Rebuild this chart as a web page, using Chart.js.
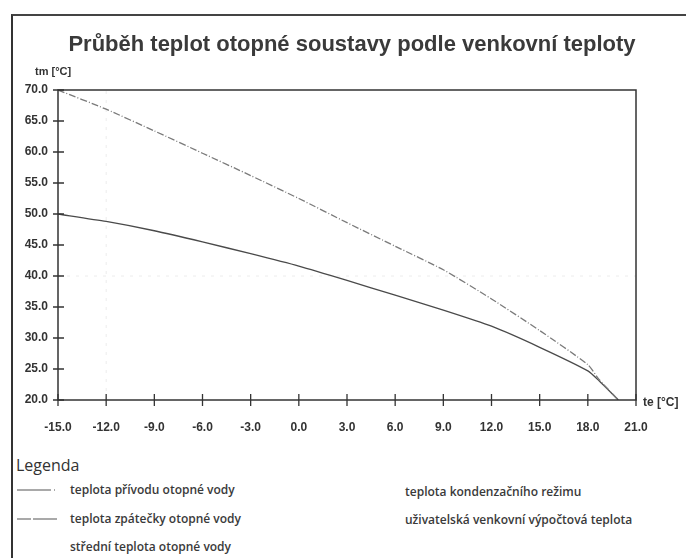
<!DOCTYPE html>
<html>
<head>
<meta charset="utf-8">
<script src="https://cdn.jsdelivr.net/npm/chart.js@4"></script>
<style>
  body { margin: 0; background: #fff; }
  #wrap { position: relative; width: 686px; height: 558px; overflow: hidden; background: #fff; }
  #ramecek { position: absolute; left: 11px; top: 14px; width: 690px; height: 560px;
             border-left: 2px solid #333; border-top: 2px solid #444; }
  #graf { position: absolute; left: 0; top: 0; }
  .txt { position: absolute; white-space: nowrap; color: #333; }
  #nadpis { left: 0; width: 704px; top: 33px; text-align: center;
            font: bold 22px "Liberation Sans", Arial, sans-serif; line-height: 22px; color: #3a3a3a; }
  .osa { font: bold 11px "Liberation Sans", Arial, sans-serif; line-height: 12px; }
  #legenda { left: 16px; top: 455px; font: 16px "Open Sans", sans-serif; line-height: 20px; color: #333; }
  .pol { font: 600 12px "Open Sans", sans-serif; line-height: 16px; color: #3a3a3a; }
  .vzor { position: absolute; left: 17px; }
</style>
</head>
<body>
<div id="wrap">
  <div id="ramecek"></div>
  <canvas id="graf" width="686" height="440"></canvas>
  <div class="txt" id="nadpis">Průběh teplot otopné soustavy podle venkovní teploty</div>
  <div class="txt osa" style="left:35px; top:65px;">tm [°C]</div>
  <div class="txt osa" style="left:643px; top:396px; font-size:12px;">te [°C]</div>

  <div class="txt" id="legenda">Legenda</div>
  <svg class="vzor" style="top:486px" width="42" height="8">
    <line x1="0" y1="4" x2="40" y2="4" stroke="#555" stroke-width="1.2" stroke-dasharray="34,3,1,3"/>
  </svg>
  <svg class="vzor" style="top:515px" width="42" height="8">
    <line x1="0" y1="4" x2="40" y2="4" stroke="#555" stroke-width="1.2" stroke-dasharray="14,2,24"/>
  </svg>
  <div class="txt pol" style="left:70px; top:482px;">teplota přívodu otopné vody</div>
  <div class="txt pol" style="left:70px; top:511px;">teplota zpátečky otopné vody</div>
  <div class="txt pol" style="left:70px; top:539px;">střední teplota otopné vody</div>
  <div class="txt pol" style="left:405px; top:484px;">teplota kondenzačního režimu</div>
  <div class="txt pol" style="left:405px; top:512px;">uživatelská venkovní výpočtová teplota</div>
</div>

<script>
// venkovni teplota te [°C]
const tePrivod = [-15, -12, -9, -6, -3, 0, 3, 6, 9, 12, 15, 18, 18.7, 19.9];
const tmPrivod = [70, 66.9, 63.4, 59.8, 56.2, 52.5, 48.6, 44.8, 41.0, 36.3, 31.2, 25.7, 23.3, 20];

const teZpatecka = [-15, -12, -9, -6, -3, 0, 3, 6, 9, 12, 15, 18, 18.7, 19.9];
const tmZpatecka = [50, 48.8, 47.3, 45.5, 43.6, 41.6, 39.3, 36.9, 34.5, 31.9, 28.5, 24.7, 23.1, 20];

// slabe pomocne cary (ve skenu skoro nejsou videt)
const vypoctovaTeplota = -12;
const kondenzace = 40;

const xTicks = [-15, -12, -9, -6, -3, 0, 3, 6, 9, 12, 15, 18, 21];
const yTicks = [20, 25, 30, 35, 40, 45, 50, 55, 60, 65, 70];

function body(xs, ys) {
    return xs.map((x, i) => ({ x: x, y: ys[i] }));
}

// ramecek grafu a carky pres osy
const osyPlugin = {
    id: 'osy',
    afterDraw(chart) {
        const ctx = chart.ctx;
        const a = chart.chartArea;
        const sx = chart.scales.x;
        const sy = chart.scales.y;
        ctx.save();
        ctx.strokeStyle = '#333';
        ctx.lineWidth = 1.5;
        ctx.strokeRect(a.left, a.top, a.right - a.left, a.bottom - a.top);
        ctx.lineWidth = 1.3;
        ctx.beginPath();
        xTicks.forEach(v => {
            const px = sx.getPixelForValue(v);
            ctx.moveTo(px, a.bottom - 6);
            ctx.lineTo(px, a.bottom + 6);
        });
        yTicks.forEach(v => {
            const py = sy.getPixelForValue(v);
            ctx.moveTo(a.left - 5, py);
            ctx.lineTo(a.left + 6, py);
        });
        ctx.stroke();
        ctx.restore();
    }
};

const ctx = document.getElementById('graf').getContext('2d');
new Chart(ctx, {
    type: 'line',
    data: {
        datasets: [{
            label: 'teplota přívodu otopné vody',
            data: body(tePrivod, tmPrivod),
            borderColor: '#7a7a7a',
            borderWidth: 1.3,
            borderDash: [7, 2, 1, 2],
            pointRadius: 0,
            tension: 0.2
        }, {
            label: 'teplota zpátečky otopné vody',
            data: body(teZpatecka, tmZpatecka),
            borderColor: '#4a4a4a',
            borderWidth: 1.3,
            pointRadius: 0,
            tension: 0.2
        }, {
            label: 'uživatelská venkovní výpočtová teplota',
            data: body([vypoctovaTeplota, vypoctovaTeplota], [20, 70]),
            borderColor: '#ececec',
            borderWidth: 1,
            borderDash: [3, 6],
            pointRadius: 0
        }, {
            label: 'teplota kondenzačního režimu',
            data: body([-15, 21], [kondenzace, kondenzace]),
            borderColor: '#ececec',
            borderWidth: 1,
            borderDash: [3, 6],
            pointRadius: 0
        }]
    },
    options: {
        responsive: false,
        animation: false,
        devicePixelRatio: 1,
        layout: { padding: { top: 90, right: 50, left: 0, bottom: 0 } },
        plugins: {
            legend: { display: false },
            tooltip: { enabled: false }
        },
        scales: {
            x: {
                type: 'linear',
                min: -15,
                max: 21,
                afterFit(scale) { scale.height = 40; },
                afterBuildTicks(scale) { scale.ticks = xTicks.map(v => ({ value: v })); },
                grid: { display: false },
                border: { display: false },
                ticks: {
                    padding: 12,
                    color: '#333',
                    font: { family: '"Liberation Sans", Arial, sans-serif', size: 12, weight: 'bold' },
                    callback: v => v.toFixed(1)
                }
            },
            y: {
                min: 20,
                max: 70,
                afterFit(scale) { scale.width = 58; },
                afterBuildTicks(scale) { scale.ticks = yTicks.map(v => ({ value: v })); },
                grid: { display: false },
                border: { display: false },
                ticks: {
                    padding: 2,
                    color: '#333',
                    font: { family: '"Liberation Sans", Arial, sans-serif', size: 12, weight: 'bold' },
                    callback: v => v.toFixed(1)
                }
            }
        }
    },
    plugins: [osyPlugin]
});
</script>
</body>
</html>
